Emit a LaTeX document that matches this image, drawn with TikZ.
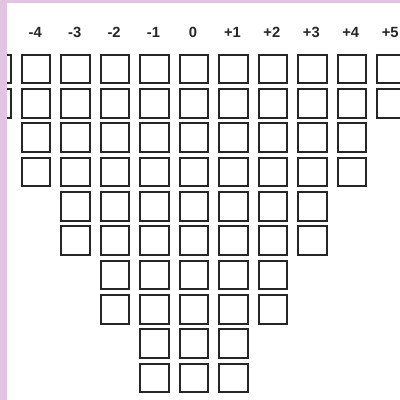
\documentclass[tikz,border=0pt]{standalone}
\usepackage{fontspec}
\setmainfont{Liberation Sans}
\usetikzlibrary{positioning}
\definecolor{framepink}{RGB}{224,196,224}

\begin{document}
\begin{tikzpicture}[
    x=0.025cm, y=-0.025cm,
    cell/.style={
        draw=black!85,
        line width=1.4pt,
        minimum size=0.71cm,
        inner sep=0pt
    },
    lbl/.style={
        font=\fontsize{10.5}{12}\selectfont\bfseries,
        text=black!85,
        inner sep=0pt
    }
]
\useasboundingbox (0,0) rectangle (400,400);
\clip (0,0) rectangle (400,400);
\fill[white] (0,0) rectangle (400,400);

% column labels
\foreach \c/\t in {-4/-4,-3/-3,-2/-2,-1/-1,0/0,1/+1,2/+2,3/+3,4/+4,5/+5}
    \node[lbl] (lab\c) at ({193+39.44*\c},32) {\t};

% funnel of boxes, two rows per width
\foreach \r in {1,...,10}{
    \pgfmathtruncatemacro\w{5-int((\r-1)/2)}
    \foreach \c in {-\w,...,\w}{
        \pgfmathtruncatemacro\i{\c+5}
        \node[cell] (b\r-\i) at ({194+39.44*\c},{69+34.33*(\r-1)}) {};
    }
}

% frame strips
\fill[framepink] (0,0) rectangle (7,400);
\fill[framepink] (0,0) rectangle (400,3);
\end{tikzpicture}
\end{document}
